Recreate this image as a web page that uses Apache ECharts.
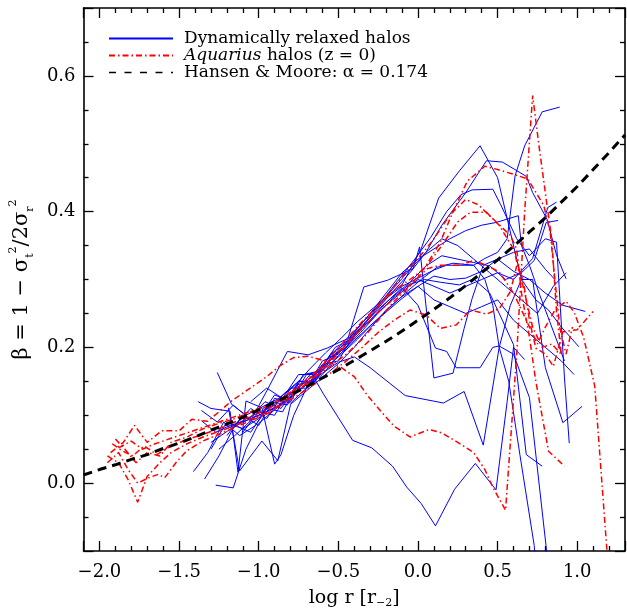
<!DOCTYPE html>
<html><head><meta charset="utf-8">
<script src="https://cdn.jsdelivr.net/npm/echarts@6/dist/echarts.min.js"></script>
<style>html,body{margin:0;padding:0;background:#fff}#c{width:627px;height:614px}</style>
</head><body><div id="c"></div>
<script>
// ---- Data: [log r, beta] ----
const relaxed01 = [[-1.26,0.163],[-1.17,0.116],[-1.08,0.100],[-0.98,0.112],[-0.88,0.124],[-0.78,0.142],[-0.68,0.168],[-0.58,0.192],[-0.48,0.214],[-0.38,0.238],[-0.28,0.258],[-0.18,0.278],[-0.10,0.292],[0.02,0.345],[0.13,0.420],[0.26,0.460],[0.39,0.497],[0.50,0.450],[0.58,0.370],[0.65,0.300],[0.74,0.270],[0.82,0.255],[0.90,0.230],[1.01,0.201]];
const relaxed02 = [[-1.34,0.006],[-1.25,0.040],[-1.15,0.085],[-1.05,0.075],[-0.95,0.110],[-0.85,0.105],[-0.75,0.150],[-0.65,0.148],[-0.55,0.185],[-0.45,0.200],[-0.35,0.230],[-0.25,0.258],[-0.15,0.284],[-0.05,0.310],[0.05,0.340],[0.15,0.380],[0.30,0.428],[0.43,0.475],[0.53,0.473],[0.68,0.452],[0.72,0.428],[0.81,0.389],[0.87,0.336],[0.93,0.301]];
const relaxed03 = [[-1.36,0.092],[-1.27,0.075],[-1.18,0.085],[-1.08,0.092],[-0.98,0.102],[-0.88,0.114],[-0.78,0.130],[-0.68,0.150],[-0.58,0.170],[-0.48,0.190],[-0.38,0.212],[-0.28,0.236],[-0.18,0.258],[-0.08,0.280],[0.02,0.300],[0.12,0.318],[0.22,0.324],[0.35,0.321],[0.42,0.331],[0.50,0.340],[0.56,0.360],[0.61,0.453],[0.67,0.497],[0.78,0.547],[0.89,0.554]];
const relaxed04 = [[-1.41,0.017],[-1.32,0.045],[-1.22,0.090],[-1.12,0.070],[-1.02,0.085],[-0.92,0.120],[-0.82,0.115],[-0.72,0.160],[-0.62,0.165],[-0.52,0.200],[-0.42,0.212],[-0.32,0.240],[-0.22,0.270],[-0.12,0.300],[-0.02,0.330],[0.08,0.362],[0.18,0.400],[0.27,0.425],[0.34,0.432],[0.47,0.433],[0.52,0.410],[0.56,0.390],[0.62,0.360],[0.70,0.335],[0.80,0.360],[0.87,0.355],[0.92,0.155],[0.95,0.059]];
const relaxed05 = [[-1.20,0.070],[-1.10,0.100],[-1.00,0.085],[-0.90,0.125],[-0.80,0.118],[-0.70,0.140],[-0.60,0.175],[-0.50,0.180],[-0.40,0.220],[-0.30,0.240],[-0.20,0.266],[-0.10,0.288],[0.00,0.262],[0.11,0.199],[0.18,0.194],[0.24,0.170],[0.39,0.170],[0.47,0.200],[0.51,0.202],[0.60,0.190],[0.70,0.126],[0.805,-0.094],[0.83,-0.150]];
const relaxed06 = [[-1.30,0.050],[-1.20,0.090],[-1.10,0.080],[-1.00,0.095],[-0.90,0.130],[-0.80,0.120],[-0.70,0.160],[-0.60,0.165],[-0.50,0.196],[-0.40,0.222],[-0.30,0.250],[-0.20,0.272],[-0.10,0.290],[0.00,0.302],[0.10,0.314],[0.18,0.321],[0.35,0.321],[0.42,0.300],[0.47,0.262],[0.51,0.200],[0.57,0.150],[0.64,0.042],[0.73,-0.092],[0.75,-0.150]];
const relaxed07 = [[-1.27,-0.003],[-1.16,-0.007],[-1.08,0.050],[-1.00,0.088],[-0.90,0.108],[-0.80,0.126],[-0.67,0.162],[-0.59,0.130],[-0.41,0.063],[-0.29,0.052],[-0.16,0.025],[-0.07,-0.006],[0.02,-0.030],[0.11,-0.063],[0.23,-0.009],[0.36,0.029],[0.49,-0.010],[0.56,0.120],[0.60,0.200],[0.67,0.182]];
const relaxed08 = [[-1.30,0.060],[-1.20,0.076],[-1.10,0.090],[-1.00,0.100],[-0.90,0.110],[-0.80,0.126],[-0.70,0.145],[-0.60,0.162],[-0.50,0.178],[-0.40,0.186],[-0.30,0.170],[-0.08,0.129],[0.16,0.118],[0.29,0.135],[0.41,0.056],[0.51,0.200],[0.58,0.262],[0.65,0.300],[0.72,0.300],[0.80,0.170],[0.91,0.089],[1.03,0.113]];
const relaxed09 = [[-1.25,0.050],[-1.15,0.070],[-1.05,0.092],[-0.94,0.140],[-0.82,0.194],[-0.69,0.189],[-0.57,0.199],[-0.44,0.213],[-0.34,0.289],[-0.19,0.299],[-0.03,0.316],[0.01,0.348],[0.10,0.155],[0.22,0.162],[0.29,0.228],[0.34,0.272],[0.41,0.321],[0.50,0.330],[0.60,0.312],[0.70,0.300],[0.80,0.280],[0.91,0.262],[1.05,0.253]];
const relaxed10 = [[-1.36,0.107],[-1.26,0.090],[-1.16,0.115],[-1.06,0.095],[-0.96,0.120],[-0.86,0.110],[-0.76,0.145],[-0.66,0.150],[-0.56,0.185],[-0.46,0.198],[-0.36,0.222],[-0.26,0.248],[-0.16,0.272],[-0.06,0.292],[0.04,0.300],[0.14,0.296],[0.26,0.292],[0.35,0.301],[0.45,0.280],[0.53,0.240],[0.60,0.204],[0.68,0.042],[0.78,0.025]];
const relaxed11 = [[-1.20,0.080],[-1.10,0.092],[-1.00,0.104],[-0.90,0.116],[-0.80,0.132],[-0.70,0.150],[-0.60,0.170],[-0.50,0.192],[-0.40,0.216],[-0.30,0.240],[-0.20,0.262],[-0.10,0.282],[0.00,0.300],[0.10,0.290],[0.20,0.280],[0.30,0.290],[0.40,0.300],[0.50,0.310],[0.60,0.300],[0.72,0.331],[0.815,0.406],[0.87,0.414]];
const relaxed12 = [[-1.15,0.085],[-1.05,0.110],[-0.95,0.095],[-0.85,0.130],[-0.75,0.150],[-0.65,0.150],[-0.55,0.190],[-0.45,0.206],[-0.35,0.232],[-0.25,0.256],[-0.15,0.276],[-0.05,0.296],[0.05,0.320],[0.15,0.335],[0.25,0.330],[0.35,0.325],[0.45,0.320],[0.55,0.300],[0.65,0.310],[0.73,0.328],[0.805,0.384],[0.88,0.387]];
const relaxed13 = [[-1.10,0.075],[-1.00,0.105],[-0.90,0.100],[-0.80,0.140],[-0.70,0.140],[-0.60,0.180],[-0.50,0.190],[-0.40,0.222],[-0.30,0.250],[-0.20,0.280],[-0.10,0.310],[0.00,0.330],[0.10,0.345],[0.20,0.360],[0.30,0.372],[0.40,0.380],[0.49,0.384],[0.63,0.394],[0.65,0.350],[0.70,0.321],[0.76,0.280],[0.84,0.230],[0.92,0.180]];
const relaxed14 = [[-1.38,0.120],[-1.30,0.110],[-1.18,0.106],[-1.13,0.016],[-1.08,0.121],[-0.98,0.111],[-0.90,0.028],[-0.86,0.042],[-0.78,0.100],[-0.70,0.140],[-0.60,0.160],[-0.50,0.188],[-0.40,0.210],[-0.30,0.232],[-0.20,0.252],[-0.10,0.272],[0.00,0.290],[0.10,0.305],[0.20,0.300],[0.30,0.302],[0.40,0.312],[0.50,0.330],[0.60,0.340],[0.70,0.345],[0.80,0.315],[0.86,0.300]];
const relaxed15 = [[-1.19,0.111],[-1.12,0.018],[-0.98,0.062],[-0.88,0.033],[-0.80,0.116],[-0.70,0.136],[-0.60,0.156],[-0.50,0.176],[-0.40,0.200],[-0.30,0.228],[-0.20,0.255],[-0.10,0.275],[0.00,0.290],[0.10,0.270],[0.20,0.260],[0.30,0.250],[0.40,0.260],[0.50,0.270],[0.60,0.240],[0.70,0.220],[0.80,0.200],[0.90,0.180],[0.98,0.160]];
const relaxed16 = [[-1.05,0.120],[-0.95,0.140],[-0.85,0.125],[-0.75,0.160],[-0.65,0.160],[-0.55,0.188],[-0.45,0.212],[-0.35,0.236],[-0.25,0.262],[-0.15,0.288],[-0.05,0.315],[0.05,0.340],[0.15,0.360],[0.25,0.350],[0.35,0.330],[0.45,0.310],[0.55,0.290],[0.65,0.270],[0.75,0.250],[0.85,0.290],[0.93,0.310]];

const aquariusA = [[-1.93,0.045],[-1.85,0.060],[-1.78,0.085],[-1.70,0.060],[-1.61,0.077],[-1.50,0.077],[-1.42,0.094],[-1.32,0.091],[-1.17,0.121],[-1.06,0.139],[-0.96,0.155],[-0.86,0.174],[-0.78,0.185],[-0.69,0.187],[-0.57,0.179],[-0.48,0.170],[-0.40,0.157],[-0.32,0.130],[-0.23,0.105],[-0.15,0.084],[-0.05,0.068],[0.07,0.079],[0.15,0.074],[0.25,0.060],[0.35,0.045],[0.42,0.020],[0.47,-0.006],[0.55,-0.040],[0.62,0.190],[0.67,0.400],[0.72,0.571],[0.76,0.497],[0.81,0.410],[0.84,0.360],[0.87,0.253],[0.90,0.190]];
const aquariusB = [[-1.95,0.040],[-1.88,0.030],[-1.82,0.005],[-1.76,-0.028],[-1.70,0.010],[-1.62,0.030],[-1.55,0.045],[-1.45,0.058],[-1.35,0.068],[-1.25,0.076],[-1.15,0.085],[-1.05,0.094],[-0.95,0.104],[-0.85,0.118],[-0.75,0.136],[-0.65,0.156],[-0.55,0.172],[-0.45,0.190],[-0.35,0.212],[-0.25,0.240],[-0.15,0.268],[-0.05,0.290],[0.05,0.320],[0.14,0.355],[0.22,0.400],[0.31,0.445],[0.42,0.467],[0.50,0.462],[0.60,0.455],[0.69,0.448],[0.79,0.409],[0.83,0.370],[0.86,0.300],[0.89,0.230],[0.93,0.190],[0.97,0.230]];
const aquariusC = [[-1.92,0.058],[-1.86,0.048],[-1.79,0.040],[-1.72,0.055],[-1.64,0.042],[-1.55,0.055],[-1.45,0.064],[-1.35,0.072],[-1.25,0.080],[-1.15,0.090],[-1.05,0.098],[-0.95,0.108],[-0.85,0.122],[-0.75,0.138],[-0.65,0.156],[-0.55,0.178],[-0.45,0.204],[-0.35,0.232],[-0.25,0.260],[-0.15,0.290],[-0.05,0.318],[0.05,0.345],[0.10,0.360],[0.20,0.395],[0.30,0.418],[0.38,0.410],[0.49,0.385],[0.58,0.365],[0.62,0.345],[0.65,0.280],[0.70,0.215],[0.74,0.150],[0.82,0.047],[0.92,0.025]];
const aquariusD = [[-1.95,0.030],[-1.88,0.045],[-1.82,0.020],[-1.76,0.000],[-1.69,0.008],[-1.63,0.013],[-1.59,0.008],[-1.52,0.030],[-1.45,0.048],[-1.35,0.062],[-1.25,0.072],[-1.15,0.082],[-1.05,0.092],[-0.95,0.102],[-0.85,0.116],[-0.75,0.130],[-0.65,0.146],[-0.55,0.162],[-0.45,0.180],[-0.35,0.200],[-0.25,0.222],[-0.15,0.240],[-0.05,0.255],[0.05,0.248],[0.14,0.228],[0.24,0.233],[0.33,0.255],[0.43,0.249],[0.51,0.257],[0.58,0.282],[0.62,0.320],[0.66,0.300],[0.70,0.240],[0.74,0.199],[0.80,0.190],[0.85,0.172],[0.91,0.223],[1.00,0.226],[1.10,0.253]];
const aquariusE = [[-1.88,0.052],[-1.80,0.062],[-1.73,0.050],[-1.65,0.058],[-1.55,0.066],[-1.45,0.074],[-1.35,0.082],[-1.25,0.090],[-1.15,0.098],[-1.05,0.106],[-0.95,0.114],[-0.85,0.126],[-0.75,0.142],[-0.65,0.162],[-0.55,0.186],[-0.45,0.212],[-0.35,0.238],[-0.25,0.262],[-0.15,0.284],[-0.05,0.300],[0.05,0.318],[0.15,0.350],[0.25,0.385],[0.33,0.399],[0.43,0.399],[0.51,0.380],[0.60,0.345],[0.66,0.290],[0.72,0.230],[0.78,0.200],[0.84,0.205],[0.90,0.190]];
const aquariusF = [[-1.90,0.065],[-1.84,0.050],[-1.77,0.030],[-1.70,0.045],[-1.62,0.040],[-1.55,0.060],[-1.45,0.068],[-1.35,0.080],[-1.25,0.088],[-1.15,0.095],[-1.05,0.105],[-0.95,0.112],[-0.85,0.126],[-0.75,0.142],[-0.65,0.160],[-0.55,0.182],[-0.45,0.205],[-0.35,0.228],[-0.25,0.252],[-0.15,0.272],[-0.03,0.297],[0.06,0.316],[0.14,0.321],[0.26,0.321],[0.35,0.328],[0.43,0.321],[0.51,0.311],[0.60,0.280],[0.68,0.240],[0.75,0.205],[0.80,0.230],[0.86,0.255],[0.93,0.268],[0.98,0.252],[1.04,0.215],[1.11,0.143],[1.19,-0.110]];

const hansenMooreX = [-2.1,-2.0,-1.9,-1.8,-1.7,-1.6,-1.5,-1.4,-1.3,-1.2,-1.1,-1.0,-0.9,-0.8,-0.7,-0.6,-0.5,-0.4,-0.3,-0.2,-0.1,0.0,0.1,0.2,0.3,0.4,0.5,0.6,0.7,0.8,0.9,1.0,1.1,1.2,1.3];
const hansenMooreY = [0.012,0.020,0.027,0.035,0.042,0.051,0.059,0.068,0.078,0.087,0.097,0.108,0.119,0.130,0.142,0.155,0.167,0.181,0.195,0.209,0.224,0.240,0.256,0.273,0.291,0.310,0.329,0.349,0.370,0.391,0.414,0.437,0.462,0.487,0.513];

const relaxedHalos = [relaxed01,relaxed02,relaxed03,relaxed04,relaxed05,relaxed06,relaxed07,relaxed08,relaxed09,relaxed10,relaxed11,relaxed12,relaxed13,relaxed14,relaxed15,relaxed16];
const aquariusHalos = [aquariusA,aquariusB,aquariusC,aquariusD,aquariusE,aquariusF];

const NAME_REL = 'Dynamically relaxed halos';
const NAME_AQ = 'Aquarius halos (z = 0)';
const NAME_HM = 'Hansen & Moore: α = 0.174';
const FONT = 'DejaVu Serif';

const series = [];
relaxedHalos.forEach(d => series.push({
  name: NAME_REL, type: 'line', data: d, symbol: 'none', silent: true,
  lineStyle: {color: '#0000ff', width: 1}, itemStyle: {color: '#0000ff'}, z: 2
}));
aquariusHalos.forEach(d => series.push({
  name: NAME_AQ, type: 'line', data: d, symbol: 'none', silent: true,
  lineStyle: {color: '#ff0000', width: 1.5, type: [6, 3, 1.5, 3]}, itemStyle: {color: '#ff0000'}, z: 3
}));
series.push({
  name: NAME_HM, type: 'line', data: hansenMooreX.map((x, i) => [x, hansenMooreY[i]]),
  symbol: 'none', silent: true,
  lineStyle: {color: '#000', width: 3, type: [9, 6]}, itemStyle: {color: '#000'}, z: 4
});

const fmt = v => v.toFixed(1).replace('-', '\u2212');
const axisCommon = {
  axisLine: {show: true, onZero: false, lineStyle: {color: '#000', width: 1.6}},
  axisTick: {show: true, inside: true, length: 10, lineStyle: {color: '#000', width: 1.3}},
  minorTick: {show: true, length: 5, lineStyle: {color: '#000', width: 1.3}},
  splitLine: {show: false}
};
const labelStyle = {color: '#000', fontFamily: FONT, fontSize: 18, formatter: fmt, showMinLabel: false, showMaxLabel: false};

const chart = echarts.init(document.getElementById('c'), null, {renderer: 'canvas'});
chart.setOption({
  animation: false,
  backgroundColor: '#fff',
  grid: {left: 81, right: 2, top: 8, bottom: 60},
  xAxis: [
    Object.assign({}, axisCommon, {
      type: 'value', min: -2.1, max: 1.3, splitNumber: 7, position: 'bottom',
      minorTick: Object.assign({}, axisCommon.minorTick, {splitNumber: 5}),
      axisLabel: Object.assign({}, labelStyle, {margin: 12}),
      name: '{m|log r [r}{s|\u22122}{m|]}', nameLocation: 'middle', nameGap: 36,
      nameTextStyle: {color: '#000', fontFamily: FONT, fontSize: 19,
        rich: {m: {fontFamily: FONT, fontSize: 19, color: '#000', lineHeight: 22},
               s: {fontFamily: FONT, fontSize: 11, color: '#000', verticalAlign: 'bottom', lineHeight: 22}}}
    }),
    Object.assign({}, axisCommon, {
      type: 'value', min: -2.1, max: 1.3, splitNumber: 7, position: 'top',
      minorTick: Object.assign({}, axisCommon.minorTick, {splitNumber: 5}),
      axisLabel: {show: false}
    })
  ],
  yAxis: [
    Object.assign({}, axisCommon, {
      type: 'value', min: -0.1, max: 0.7, splitNumber: 4, position: 'left',
      minorTick: Object.assign({}, axisCommon.minorTick, {splitNumber: 4}),
      axisLabel: Object.assign({}, labelStyle, {margin: 8}),
      name: '{m|\u03b2 = 1 \u2212 \u03c3}{s|t}{p|2}{m|/2\u03c3}{s|r}{p|2}',
      nameLocation: 'middle', nameRotate: 90, nameGap: 46,
      nameTextStyle: {color: '#000', fontFamily: FONT, fontSize: 21,
        rich: {m: {fontFamily: FONT, fontSize: 21, color: '#000', lineHeight: 28},
               s: {fontFamily: FONT, fontSize: 11, color: '#000', verticalAlign: 'bottom', lineHeight: 28},
               p: {fontFamily: FONT, fontSize: 11, color: '#000', verticalAlign: 'top', lineHeight: 28}}}
    }),
    Object.assign({}, axisCommon, {
      type: 'value', min: -0.1, max: 0.7, splitNumber: 4, position: 'right',
      minorTick: Object.assign({}, axisCommon.minorTick, {splitNumber: 4}),
      axisLabel: {show: false}
    })
  ],
  legend: {
    show: true, orient: 'vertical', left: 108, top: 30, itemWidth: 64, itemHeight: 14, itemGap: 0,
    selectedMode: false, padding: 0,
    itemStyle: {opacity: 0},
    data: [
      {name: NAME_REL},
      {name: NAME_AQ},
      {name: NAME_HM, lineStyle: {width: 1.3, type: [7, 8.5]}}
    ],
    formatter: n => n === NAME_AQ ? '{i|Aquarius} halos (z = 0)' : n,
    textStyle: {color: '#000', fontFamily: FONT, fontSize: 17, padding: [0, 0, 0, 6],
      rich: {i: {fontFamily: FONT, fontSize: 17, fontStyle: 'italic', color: '#000'}}}
  },
  series: series
});
</script>
</body></html>
